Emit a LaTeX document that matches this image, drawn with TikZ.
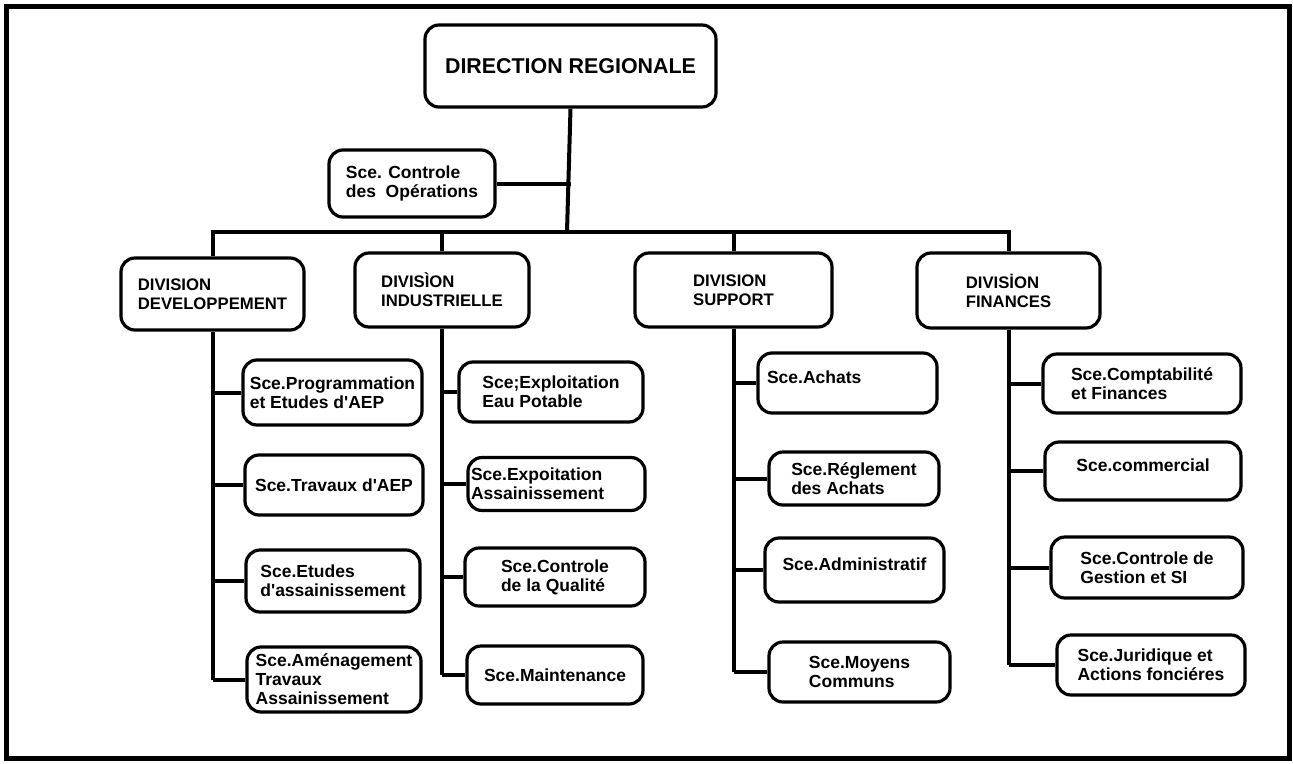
\documentclass[tikz,border=0pt]{standalone}
\usepackage{fontspec}
\setmainfont{Liberation Sans}[Ligatures=TeXOff]
\begin{document}
\begin{tikzpicture}[x=1pt,y=-1pt,
  box/.style={draw, line width=3.2pt, rounded corners=14pt, align=left, inner sep=0pt,
    font=\bfseries\fontsize{17.5}{19}\selectfont},
  divbox/.style={box, font=\bfseries\fontsize{16.7}{19}\selectfont},
  conn/.style={line width=4pt},
  frame/.style={line width=5pt}]
\useasboundingbox (0,0) rectangle (1293,763);
\draw[frame] (6.5,6.5) rectangle (1289,758);
% top
\node[box, minimum width=291pt, minimum height=82pt, font=\bfseries\fontsize{21.4}{24}\selectfont] (dir) at (570.5,66) {DIRECTION REGIONALE};
\node[box, minimum width=166pt, minimum height=67pt] (cop) at (412,183.5) {Sce. Controle\\des\ \ Op\'erations};
% divisions
\node[divbox, minimum width=183pt, minimum height=72pt] (d1) at (212.5,294) {DIVISION\\DEVELOPPEMENT};
\node[divbox, minimum width=174pt, minimum height=74pt] (d2) at (442,290) {DIVIS\`ION\\INDUSTRIELLE};
\node[divbox, minimum width=197pt, minimum height=74pt] (d3) at (733.5,290) {DIVISION\\SUPPORT};
\node[divbox, minimum width=183pt, minimum height=75pt] (d4) at (1008.5,290.5) {DIVIS\.ION\\FINANCES};
% column 1
\node[box, minimum width=179pt, minimum height=65pt] (s11) at (332.5,392.5) {Sce.Programmation\\et Etudes d'AEP};
\node[box, minimum width=178pt, minimum height=60pt] (s12) at (334,485) {Sce.Travaux d'AEP};
\node[box, minimum width=174pt, minimum height=62pt] (s13) at (333,581) {Sce.Etudes\\d'assainissement};
\node[box, minimum width=174pt, minimum height=65pt] (s14) at (334,679.5) {Sce.Am\'enagement\\Travaux\\Assainissement};
% column 2
\node[box, minimum width=184pt, minimum height=60pt] (s21) at (551,392) {Sce;Exploitation\\Eau Potable};
\node[box, minimum width=177pt, minimum height=53pt, text width=171pt] (s22) at (556.5,484) {Sce.Expoitation\\Assainissement};
\node[box, minimum width=180pt, minimum height=58pt] (s23) at (555,577) {Sce.Controle\\de la Qualit\'e};
\node[box, minimum width=176pt, minimum height=58pt] (s24) at (555,675) {Sce.Maintenance};
% column 3
\node[box, minimum width=179pt, minimum height=60pt, text width=161pt] (s31) at (847.5,383) {Sce.Achats\\[-8pt]\mbox{}};
\node[box, minimum width=170pt, minimum height=53pt] (s32) at (854,478.5) {Sce.R\'eglement\\des Achats};
\node[box, minimum width=179pt, minimum height=64pt] (s33) at (854.5,570) {Sce.Administratif\\[-8pt]\mbox{}};
\node[box, minimum width=181pt, minimum height=60pt] (s34) at (859.5,672) {Sce.Moyens\\Communs};
% column 4
\node[box, minimum width=198pt, minimum height=59pt] (s41) at (1142,383.5) {Sce.Comptabilit\'e\\et Finances};
\node[box, minimum width=196pt, minimum height=58pt] (s42) at (1143,471) {Sce.commercial\\[-8pt]\mbox{}};
\node[box, minimum width=192pt, minimum height=61pt] (s43) at (1147,567.5) {Sce.Controle de\\Gestion et SI};
\node[box, minimum width=188pt, minimum height=60pt] (s44) at (1151,665) {Sce.Juridique et\\Actions fonci\'eres};
% connectors
\coordinate (bar) at (567,232);
\draw[conn] (dir.south) -- (bar);
\draw[conn] (cop.east) -- (cop.east -| dir.south);
\draw[conn, line cap=rect] (d1.north |- bar) -- (d4.north |- bar);
\foreach \d in {d1,d2,d3,d4}{
  \draw[conn] (\d.north |- bar) -- (\d.north);
}
\foreach \d/\c in {d1/1,d2/2,d3/3,d4/4}{
  \draw[conn] (\d.south) -- (\d.south |- s\c4.west);
  \foreach \k in {1,2,3,4}{
    \draw[conn] (\d.south |- s\c\k.west) -- (s\c\k.west);
  }
}
\end{tikzpicture}
\end{document}
